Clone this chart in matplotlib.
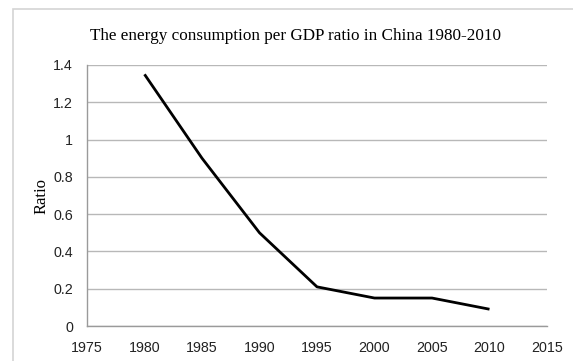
import matplotlib.pyplot as plt
from matplotlib.patches import Rectangle

years = [1980, 1985, 1990, 1995, 2000, 2005, 2010]
ratio = [1.35, 0.90, 0.50, 0.21, 0.15, 0.15, 0.09]
x_ticks = [1975, 1980, 1985, 1990, 1995, 2000, 2005, 2010, 2015]
y_ticks = [0, 0.2, 0.4, 0.6, 0.8, 1.0, 1.2, 1.4]
y_labels = ["0", "0.2", "0.4", "0.6", "0.8", "1", "1.2", "1.4"]

W, H = 573, 361
fig = plt.figure(figsize=(W / 100, H / 100), dpi=100)

# light frame around the chart area
fig.patches.append(Rectangle((13 / W, -0.1), 1.2, 1.1 - 9 / H, transform=fig.transFigure,
                             facecolor="none", edgecolor="#d4d4d4", linewidth=1.2, zorder=0))

ax = fig.add_axes([87 / W, 1 - 326 / H, (547 - 87) / W, (326 - 65) / H])
ax.patch.set_alpha(0)
ax.plot(years, ratio, color="black", linewidth=2, solid_capstyle="butt", zorder=3)

ax.set_xlim(1975, 2015)
ax.set_ylim(0, 1.4)
ax.set_xticks(x_ticks)
ax.set_yticks(y_ticks)
ax.set_yticklabels(y_labels)
ax.grid(axis="y", color="#b8b8b8", linewidth=1)
ax.set_axisbelow(True)

for s in ["top", "right"]:
    ax.spines[s].set_visible(False)
for s in ["left", "bottom"]:
    ax.spines[s].set_color("#9a9a9a")
    ax.spines[s].set_linewidth(1)

ax.tick_params(length=0, labelsize=10.3, colors="#222222")
for lab in ax.get_xticklabels() + ax.get_yticklabels():
    lab.set_fontfamily("Liberation Sans")
ax.tick_params(axis="x", pad=11)
ax.tick_params(axis="y", pad=10)

ax.set_ylabel("Ratio", fontfamily="Liberation Serif", fontsize=12, va="center")
ax.yaxis.set_label_coords((41.5 - 87) / (547 - 87), 0.5)

fig.text(296 / W, 1 - 40 / H, "The energy consumption per GDP ratio in China 1980-2010",
         ha="center", va="baseline", fontfamily="Liberation Serif", fontsize=12.3)

fig.savefig("out.png", dpi=100)
